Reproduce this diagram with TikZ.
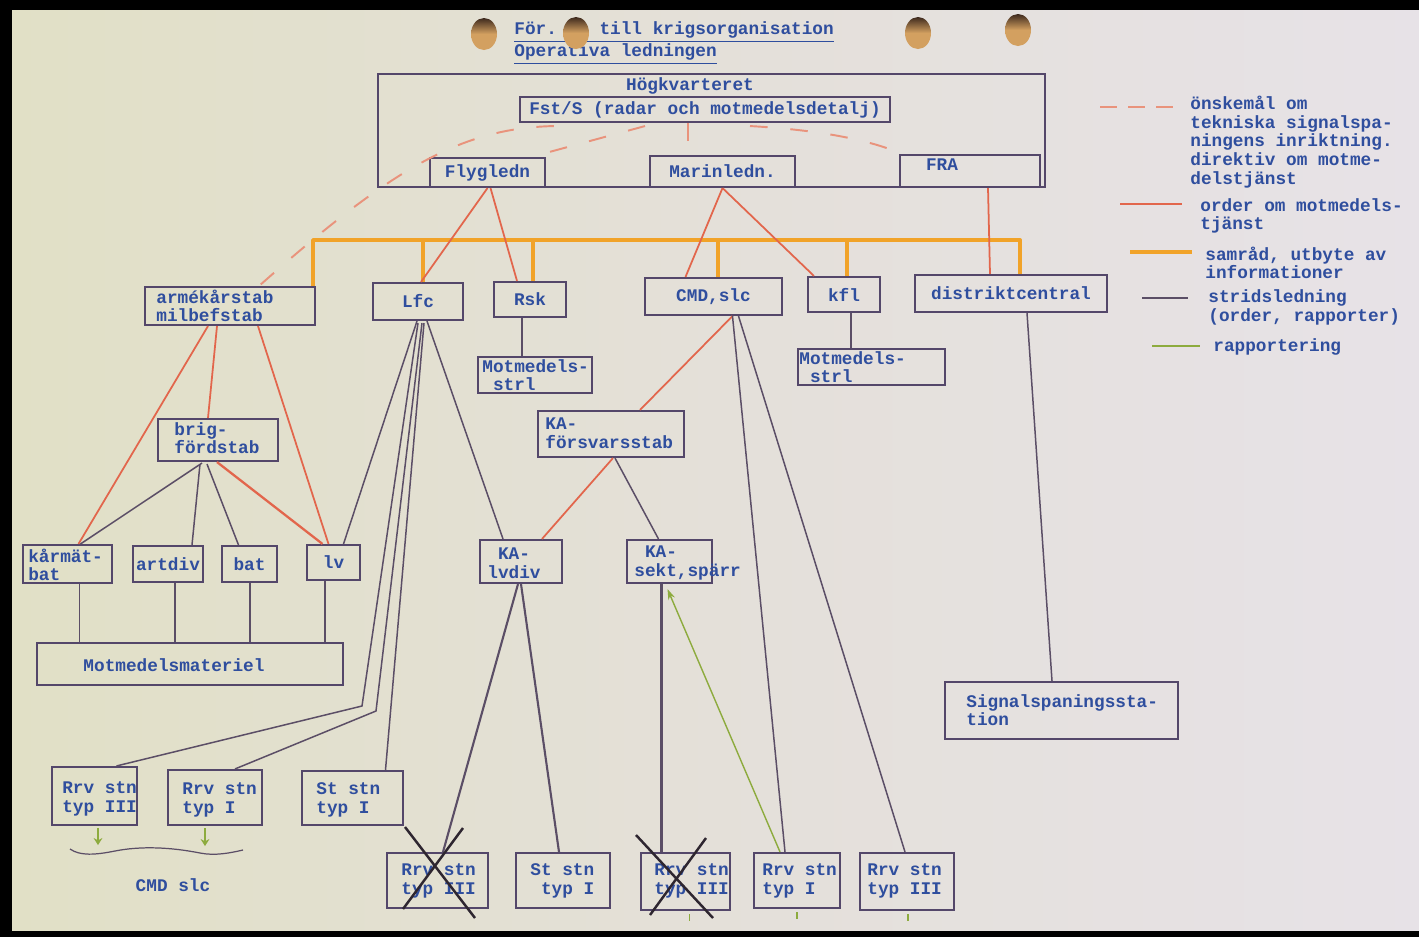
\documentclass[tikz,border=0pt]{standalone}
\usepackage{fontspec}
\setmonofont{Liberation Mono}
\usetikzlibrary{calc,arrows.meta}
\definecolor{ink}{HTML}{2F4E9E}
\definecolor{boxc}{HTML}{54476A}
\definecolor{ordc}{HTML}{E2664C}
\definecolor{dashc}{HTML}{E9937C}
\definecolor{samc}{HTML}{F1A329}
\definecolor{stric}{HTML}{5B4E66}
\definecolor{rapc}{HTML}{8DAB3E}
\definecolor{paperL}{HTML}{E1E0C6}
\definecolor{paperM}{HTML}{E4E0D9}
\definecolor{paperR}{HTML}{E7E2E7}
\definecolor{holeT}{HTML}{3E2A1E}
\definecolor{holeB}{HTML}{D3A060}
\definecolor{crossc}{HTML}{2E2630}
\newcommand\twf{\fontsize{10.1pt}{10.6pt}\selectfont\ttfamily\bfseries}
\begin{document}
\begin{tikzpicture}[x=0.02cm,y=-0.02cm,
  box/.style={draw=boxc, line width=1.2pt, font=\twf, text=ink, inner sep=1pt},
  sz/.style 2 args={minimum width=#1*0.02cm, minimum height=#2*0.02cm},
  txt/.style={font=\twf, text=ink, inner sep=0pt, align=left},
  ord/.style={draw=ordc, line width=1pt},
  onske/.style={draw=dashc, line width=1.1pt, dash pattern=on 10pt off 13pt},
  samrad/.style={draw=samc, line width=2.2pt, line join=round},
  strid/.style={draw=stric, line width=0.85pt},
  rapp/.style={draw=rapc, line width=0.8pt},
  cross/.style={draw=crossc, line width=1.4pt},
]
% paper
\fill[black] (0,0) rectangle (1419,937);
\shade[left color=paperL, right color=paperR, middle color=paperM] (12,10) rectangle (1419,930);
\useasboundingbox (0,0) rectangle (1419,937);

% boxes
\node[box, sz={667}{113}] (hkv) at (711.5,130.5) {};
\node[box, sz={370}{25}] (fsts) at (705,109.5) {Fst/S (radar och motmedelsdetalj)};
\node[box, sz={115}{29}] (flyg) at (487.5,172.5) {Flygledn};
\node[box, sz={145}{31}] (marin) at (722.5,171.5) {Marinledn.};
\node[box, sz={140}{32}] (fra) at (970,171) {};
\node[box, sz={170}{38}] (arme) at (230,306) {};
\node[box, sz={90}{37}] (lfc) at (418,301.5) {Lfc};
\node[box, sz={72}{35}] (rsk) at (530,299.5) {Rsk};
\node[box, sz={137}{37}] (cmd) at (713.5,296.5) {CMD,slc};
\node[box, sz={72}{35}] (kfl) at (844,294.5) {kfl};
\node[box, sz={192}{37}] (dist) at (1011,293.5) {distriktcentral};
\node[box, sz={114}{36}] (mms1) at (535,375) {};
\node[box, sz={147}{36}] (mms2) at (871.5,367) {};
\node[box, sz={120}{42}] (brig) at (218,440) {};
\node[box, sz={146}{46}] (kafs) at (611,434) {};
\node[box, sz={89}{38}] (karmat) at (67.5,564) {};
\node[box, sz={70}{36}] (artdiv) at (168,564) {artdiv};
\node[box, sz={55}{36}] (bat) at (249.5,564) {bat};
\node[box, sz={53}{35}] (lv) at (333.5,562.5) {lv};
\node[box, sz={82}{43}] (kalv) at (521,561.5) {};
\node[box, sz={85}{43}] (kasekt) at (669.5,561.5) {};
\node[box, sz={306}{42}] (mmat) at (190,664) {};
\node[box, sz={233}{57}] (sig) at (1061.5,710.5) {};
\node[box, sz={85}{58}] (r3a) at (94.5,796) {};
\node[box, sz={94}{55}] (r1a) at (215,797.5) {};
\node[box, sz={101}{54}] (st1a) at (352.5,798) {};
\node[box, sz={101}{55}] (r3b) at (437.5,880.5) {};
\node[box, sz={94}{55}] (st1b) at (563,880.5) {};
\node[box, sz={89}{57}] (r3c) at (685.5,881.5) {};
\node[box, sz={86}{55}] (r1b) at (797,880.5) {};
\node[box, sz={94}{57}] (r3d) at (907,881.5) {};

% dashed: önskemål / direktiv
\draw[onske] ($(fsts.south)+(-17,0)$) coordinate (d1) -- (d1 |- marin.north);
\draw[onske] ($(fsts.south west)+(35,3)$) .. controls (460,128) and (390,170) .. ($(arme.north east)+(-57,0)$);
\draw[onske] ($(fsts.south)+(-60,3)$) -- ($(flyg.north east)+(-15,0)$);
\draw[onske] ($(fsts.south)+(45,3)$) .. controls (820,130) and (870,140) .. ($(fra.north west)+(3,0)$);

% orange bus: samråd
\coordinate (bus) at (0,240);
\path ($(arme.north east)+(-3,0)$) coordinate (o1)
      ($(lfc.north)+(5,0)$) coordinate (o2)
      ($(rsk.north)+(3,0)$) coordinate (o3)
      ($(cmd.north)+(4.5,0)$) coordinate (o4)
      ($(kfl.north)+(3,0)$) coordinate (o5)
      ($(dist.north)+(9,0)$) coordinate (o6);
\draw[samrad] (o1) -- (o1 |- bus) -- (o6 |- bus) -- (o6);
\foreach \c in {o2,o3,o4,o5} \draw[samrad] (\c) -- (\c |- bus);

% red: order
\draw[ord] (flyg.south) -- ($(lfc.north)+(3,0)$);
\draw[ord] ($(flyg.south)+(3,0)$) -- ($(rsk.north)+(-13,0)$);
\draw[ord] (marin.south) -- ($(cmd.north)+(-28,0)$);
\draw[ord] (marin.south) -- ($(kfl.north west)+(7,0)$);
\draw[ord] ($(fra.south)+(18,0)$) -- ($(dist.north)+(-21,0)$);
\draw[ord] ($(arme.south)+(-22,0)$) -- ($(karmat.north)+(11,0)$);
\draw[ord] ($(arme.south)+(-13,0)$) -- ($(brig.north)+(-10,0)$);
\draw[ord] ($(arme.south)+(28,0)$) -- ($(lv.north)+(-5,0)$);
\draw[ord, line width=1.3pt] ($(brig.south)+(-1,0)$) -- ($(lv.north)+(-11,0)$);
\draw[ord] ($(cmd.south)+(19,0)$) -- ($(kafs.north)+(29,0)$);
\draw[ord] ($(kafs.south)+(2,0)$) -- ($(kalv.north)+(21,0)$);

% stridsledning
\draw[strid] ($(rsk.south)+(-8,0)$) coordinate (s1) -- (s1 |- mms1.north);
\draw[strid] ($(kfl.south)+(7,0)$) coordinate (s2) -- (s2 |- mms2.north);
\draw[strid] ($(brig.south)+(-16,1)$) -- ($(karmat.north)+(13,0)$);
\draw[strid] ($(brig.south)+(-18,2)$) -- ($(artdiv.north)+(24,0)$);
\draw[strid] ($(brig.south)+(-11,2)$) -- ($(bat.north)+(-11,0)$);
\draw[strid] ($(karmat.south)+(12,0)$) coordinate (m1) -- (m1 |- mmat.north);
\draw[strid] ($(artdiv.south)+(7,0)$) coordinate (m2) -- (m2 |- mmat.north);
\draw[strid] ($(bat.south)+(0.5,0)$) coordinate (m3) -- (m3 |- mmat.north);
\draw[strid, line width=1.2pt] ($(lv.south)+(-8.5,0)$) coordinate (m4) -- (m4 |- mmat.north);
\draw[strid] ($(lfc.south)+(-1,0)$) -- ($(lv.north)+(10,0)$);
\coordinate (b1) at (362,706);
\coordinate (b2) at (376,711);
\draw[strid] ($(lfc.south)+(0,2)$) -- (b1) -- ($(r3a.north)+(22,0)$);
\draw[strid] ($(lfc.south)+(4,2)$) -- (b2) -- ($(r1a.north)+(20,0)$);
\draw[strid] ($(lfc.south)+(6,2)$) -- ($(st1a.north)+(33,0)$);
\draw[strid] ($(lfc.south)+(9,0)$) -- ($(kalv.north)+(-18,0)$);
\draw[strid] ($(kafs.south)+(4,0)$) -- ($(kasekt.north)+(-11,0)$);
\draw[strid, line width=1.2pt] ($(kalv.south)+(-3,0)$) -- ($(r3b.north)+(5.5,0)$);
\draw[strid, line width=1.2pt] (kalv.south) -- ($(st1b.north)+(-4,0)$);
\draw[strid, line width=1.2pt] ($(kasekt.south)+(-8,0)$) coordinate (m5) -- (m5 |- r3c.north);
\draw[strid] ($(cmd.south)+(19,0)$) -- ($(r1b.north)+(-12,0)$);
\draw[strid] ($(cmd.south)+(25,0)$) -- ($(r3d.north)+(-2,0)$);
\draw[strid] ($(dist.south)+(16,0)$) -- ($(sig.north)+(-9.5,0)$);

% rapportering
\draw[rapp, -{Stealth[length=6pt,width=4pt]}] ($(r1b.north)+(-17,0)$) -- ($(kasekt.south)+(-2,5)$);
\draw[rapp, line width=1pt, -{Stealth[length=4pt,width=5pt]}] ($(r3a.south)+(3.5,2)$) -- ++(0,17);
\draw[rapp, line width=1pt, -{Stealth[length=4pt,width=5pt]}] ($(r1a.south)+(-10,2)$) -- ++(0,18);
\draw[rapp] ($(r3c.south)+(4,3)$) -- ++(0,7);
\draw[rapp] ($(r1b.south)+(0,3)$) -- ++(0,7);
\draw[rapp] ($(r3d.south)+(1,3)$) -- ++(0,7);

% brace under the CMD slc stations
\draw[stric, line width=0.7pt] (70,849) .. controls (80,856) and (95,855) .. (115,851)
  .. controls (140,846) and (170,847) .. (200,853) .. controls (215,856) and (230,853) .. (243,850);

% texts
\node[txt, anchor=west] (head1) at (514,32) {\underline{För.\ \ \ \ till krigsorganisation}};
\node[txt, anchor=west] (head2) at (514,54) {\underline{Operativa ledningen}};
\node[txt] (hkv-t) at (690,86) {Högkvarteret};
\node[txt] (fra-t) at (942,165) {FRA};
\node[txt, anchor=west] (arme-t) at (156,306) {armékårstab\\milbefstab};
\node[txt, anchor=west] (brig-t) at (174,438) {brig-\\fördstab};
\node[txt, anchor=west] (kafs-t) at (545,433) {KA-\\försvarsstab};
\node[txt, anchor=west] (karmat-t) at (28,565) {kårmät-\\bat};
\node[txt, anchor=west] (kalv-t) at (487,563) {\ KA-\\lvdiv};
\node[txt, anchor=west] (kasekt-t) at (634,563) {\ KA-\\sekt,spärr};
\node[txt, anchor=west] (mms1-t) at (482,375) {Motmedels-\\\ strl};
\node[txt, anchor=west] (mms2-t) at (799,367) {Motmedels-\\\ strl};
\node[txt] (mmat-t) at (174,665) {Motmedelsmateriel};
\node[txt, anchor=west] (sig-t) at (966,710) {Signalspaningssta-\\tion};
\node[txt, anchor=west] (r3a-t) at (62,799) {Rrv stn\\typ III};
\node[txt, anchor=west] (r1a-t) at (182,800) {Rrv stn\\typ I};
\node[txt, anchor=west] (st1a-t) at (316,800) {St stn\\typ I};
\node[txt, anchor=west] (r3b-t) at (401,881) {Rrv stn\\typ III};
\node[txt, anchor=west] (st1b-t) at (530,881) {St stn\\\ typ I};
\node[txt, anchor=west] (r3c-t) at (654,881) {Rrv stn\\typ III};
\node[txt, anchor=west] (r1b-t) at (762,881) {Rrv stn\\typ I};
\node[txt, anchor=west] (r3d-t) at (867,881) {Rrv stn\\typ III};
\node[txt] (cmdslc-t) at (173,885) {CMD slc};

% crossed-out stations
\draw[cross] (405,827) -- (475,918) (463,828) -- (403,909);
\draw[cross] (636,835) -- (713,918) (706,838) -- (650,915);

% legend
\coordinate (la1) at (1100,107); \coordinate (la2) at (1177,107);
\draw[onske, dash pattern=on 9.5pt off 6.5pt] (la1) -- (la2);
\node[txt, anchor=west] (leg1) at (1190,142) {önskemål om\\tekniska signalspa-\\ningens inriktning.\\direktiv om motme-\\delstjänst};
\coordinate (lb1) at (1120,204); \coordinate (lb2) at (1182,204);
\draw[ord] (lb1) -- (lb2);
\node[txt, anchor=west] (leg2) at (1200,216) {order om motmedels-\\tjänst};
\coordinate (lc1) at (1130,252); \coordinate (lc2) at (1192,252);
\draw[samrad, line width=1.8pt] (lc1) -- (lc2);
\node[txt, anchor=west] (leg3) at (1205,263) {samråd, utbyte av\\informationer};
\coordinate (ld1) at (1142,298); \coordinate (ld2) at (1188,298);
\draw[strid] (ld1) -- (ld2);
\node[txt, anchor=west] (leg4) at (1208,307.5) {stridsledning\\(order, rapporter)};
\coordinate (le1) at (1152,346); \coordinate (le2) at (1200,346);
\draw[rapp] (le1) -- (le2);
\node[txt, anchor=west] (leg5) at (1213,347) {rapportering};

% punch holes
\foreach \hx/\hy in {484/34, 576/33, 918/33, 1018/30}
  \shade[top color=holeT, bottom color=holeB, middle color=holeB] (\hx,\hy) ellipse [x radius=13, y radius=16];
\end{tikzpicture}
\end{document}
